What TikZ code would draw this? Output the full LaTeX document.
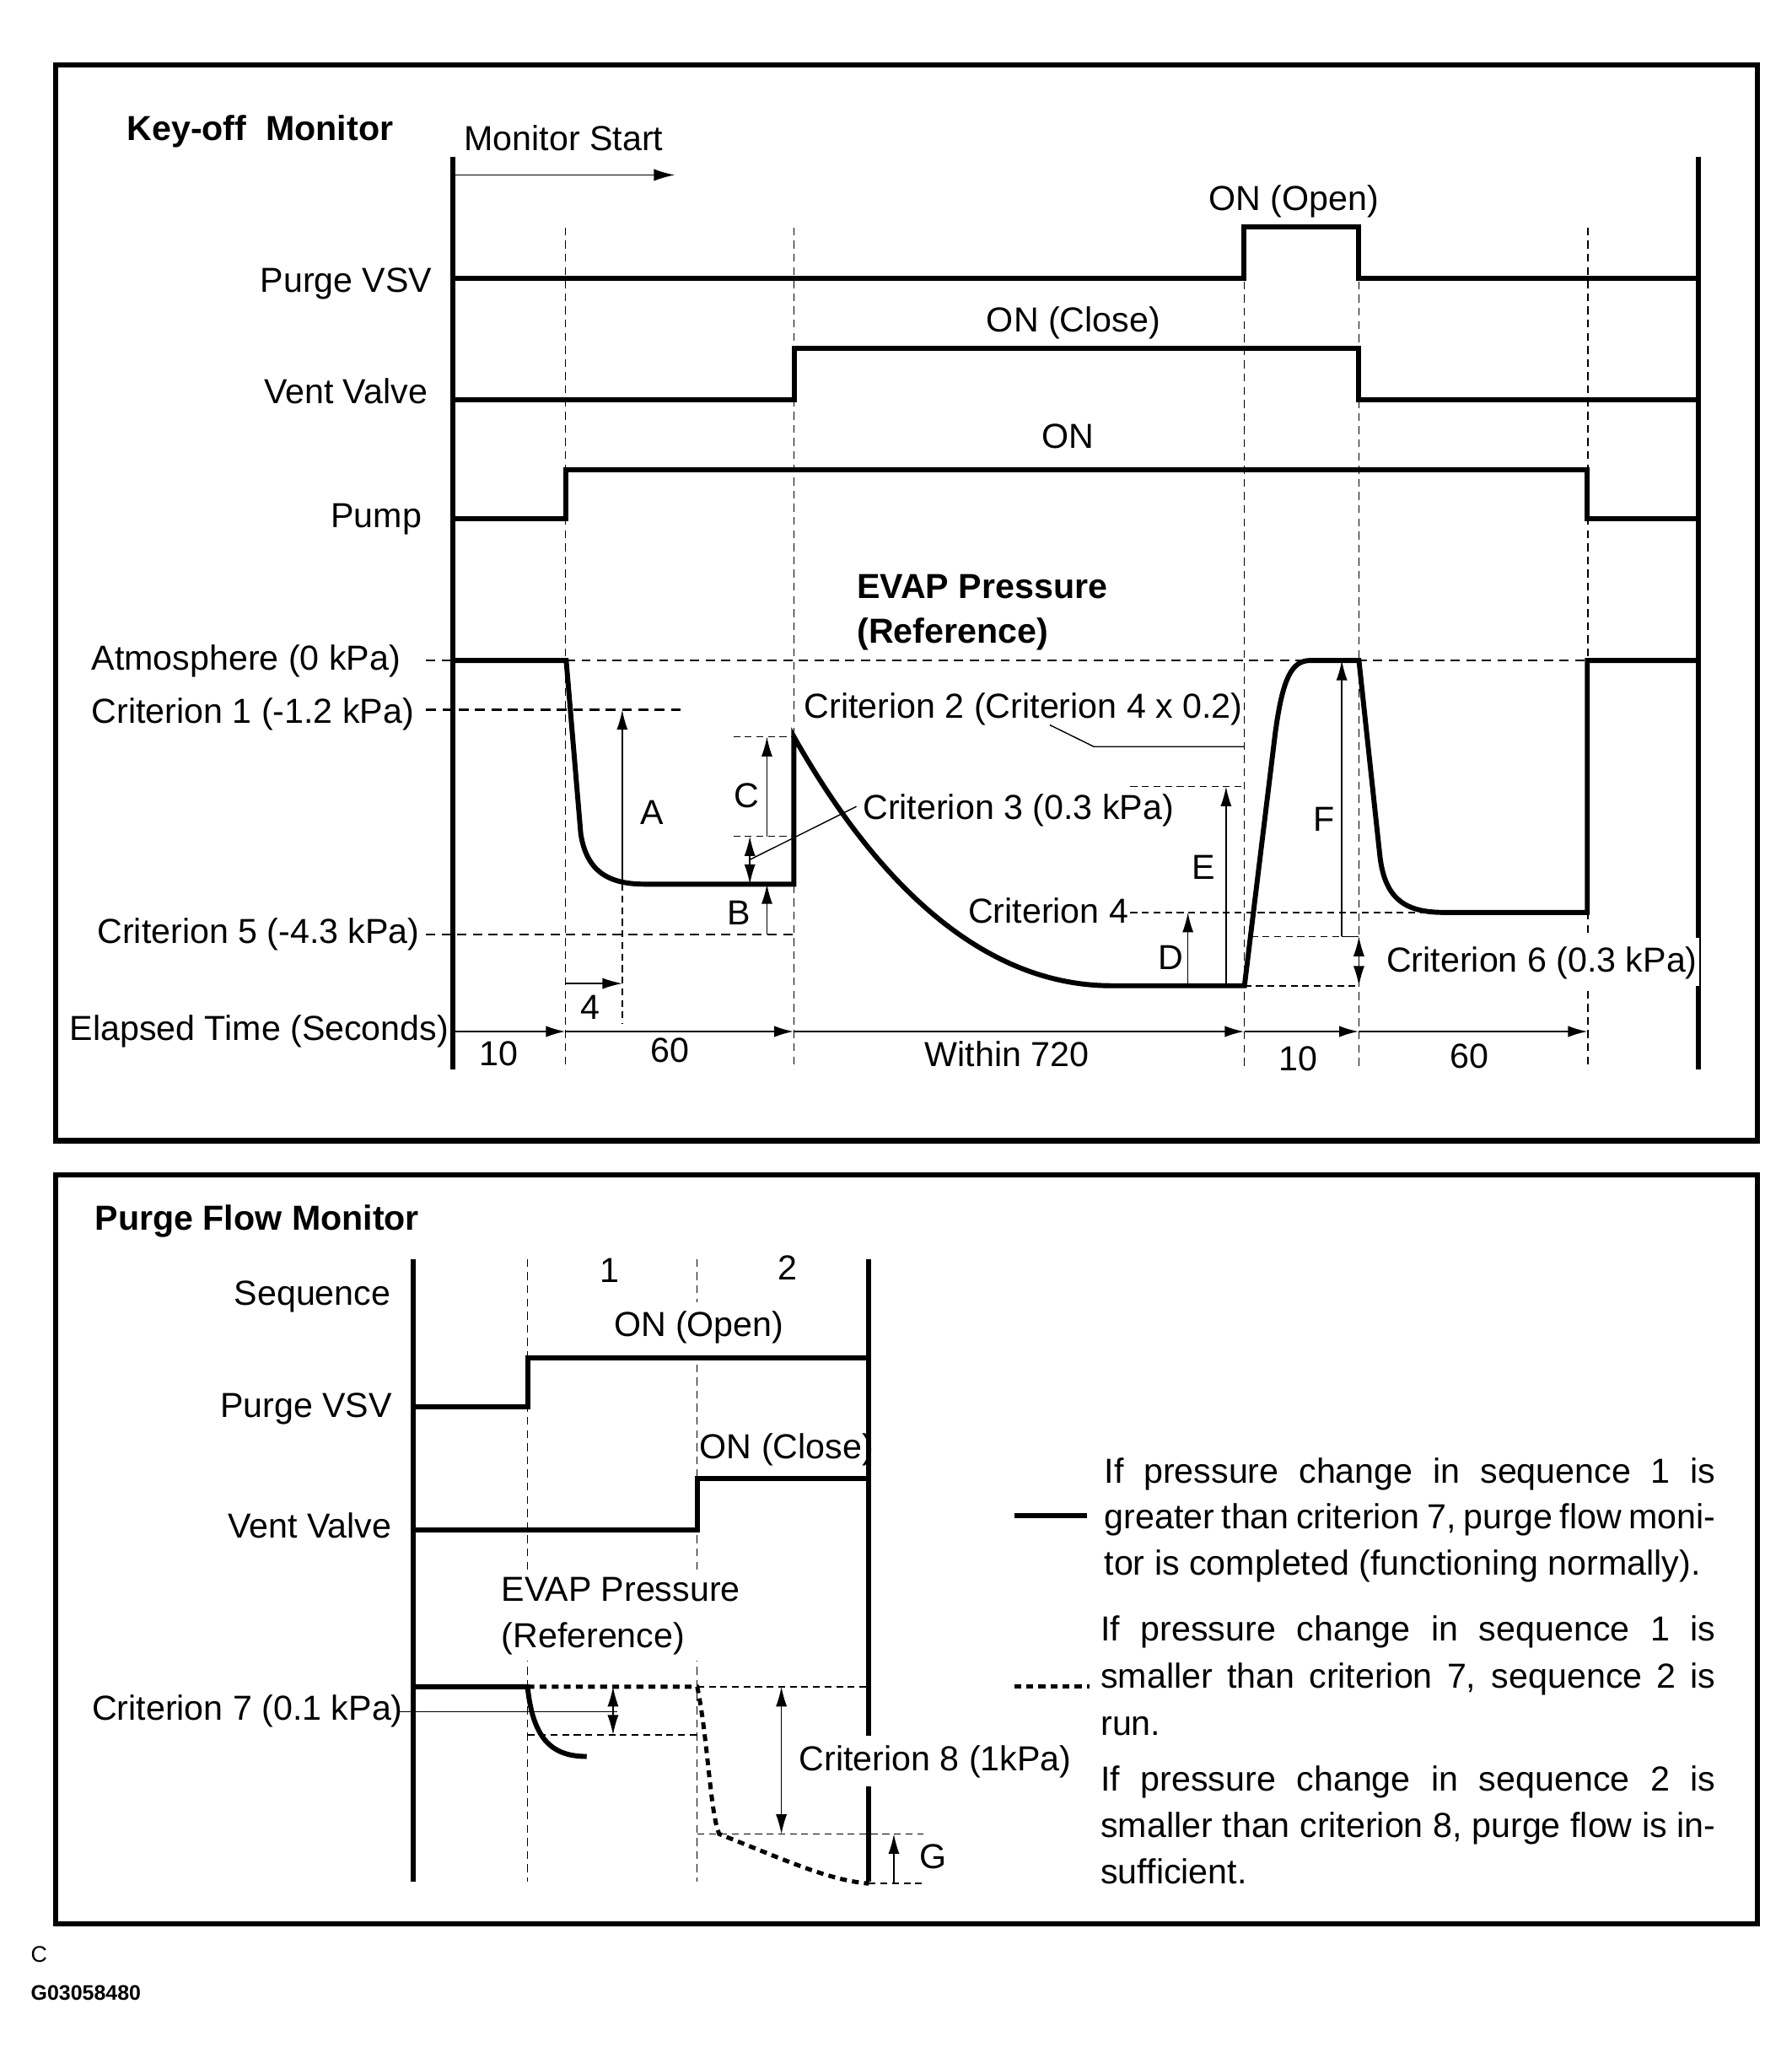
\documentclass[tikz,border=0pt]{standalone}
\usepackage{fontspec}
\setmainfont{Liberation Sans}
\usetikzlibrary{arrows.meta}
\newcommand\lblfont{\fontsize{13.2}{15.8}\selectfont}
\begin{document}
\begin{tikzpicture}[x=0.5pt,y=-0.5pt,
  every node/.style={inner sep=0pt, outer sep=0pt, font=\lblfont},
  bfnode/.style={font=\lblfont\bfseries},
  sig/.style={line width=1.9pt, line join=miter},
  panel/.style={line width=2pt},
  vdash/.style={line width=0.45pt, dash pattern=on 3pt off 2pt},
  hdash/.style={line width=0.6pt, dash pattern=on 3.5pt off 2.4pt},
  bdash/.style={line width=0.9pt, dash pattern=on 3.8pt off 2.4pt},
  sdash/.style={line width=0.5pt, dash pattern=on 2.6pt off 1.8pt},
  thn/.style={line width=0.45pt},
  mask/.style={fill=white},
  arr/.style={thn, -{Latex[length=7.5pt,width=4.2pt]}},
  darr/.style={thn, {Latex[length=7.5pt,width=4.2pt]}-{Latex[length=7.5pt,width=4.2pt]}},
  tarr/.style={line width=0.8pt, -{Latex[length=7.5pt,width=4.3pt]}},
  dotl/.style={line width=1.6pt, dash pattern=on 2.6pt off 2pt}
]
\useasboundingbox (0,0) rectangle (1362,1568);
\fill[white] (0,0) rectangle (1362,1568);

% ================= frames
\draw[panel] (42.5,49.5) rectangle (1336,867);
\draw[panel] (42.5,893) rectangle (1336,1462);

% ================= top panel
\node[bfnode, anchor=base west] (keyoff) at (96.5,106.5) {Key-off\ \ Monitor};
\node[anchor=base west] (mstart) at (353,114.5) {Monitor Start};
\draw[line width=0.6pt, -{Latex[length=8pt,width=4.6pt]}] (346,133) -- (513,133);

% dashed verticals
\draw[vdash] (430,173) -- (430,813);
\draw[vdash] (603.5,173) -- (603.5,813);
\draw[vdash] (946,214) -- (946,813);
\draw[vdash] (1033,214) -- (1033,813);
\draw[vdash] (1207,173) -- (1207,813);

% main verticals
\draw[sig] (344,119) -- (344,813);
\draw[sig] (1291,119) -- (1291,813);

% signals
\node[anchor=base east] (pvsv) at (328.5,222) {Purge VSV};
\node[anchor=base east] (vvalve) at (325,306.5) {Vent Valve};
\node[anchor=base east] (pump) at (320.5,401) {Pump};
\draw[sig] (344,211.3) -- (945.5,211.3) -- (945.5,172.6) -- (1033,172.6) -- (1033,211.3) -- (1291,211.3);
\draw[sig] (344,304) -- (603.7,304) -- (603.7,264.8) -- (1033,264.8) -- (1033,304) -- (1291,304);
\draw[sig] (344,394.5) -- (430.4,394.5) -- (430.4,357.2) -- (1206.6,357.2) -- (1206.6,394.5) -- (1291,394.5);
\node[anchor=base] (onopen) at (983.5,160) {ON (Open)};
\node[anchor=base] (onclose) at (816,252) {ON (Close)};
\node[anchor=base] (on) at (811.5,341) {ON};

% EVAP pressure
\node[bfnode, anchor=base west] (evap1) at (651.5,455) {EVAP Pressure};
\node[bfnode, anchor=base west] (evap2) at (651.5,489) {(Reference)};

\node[anchor=base west] (atm) at (69.7,509.5) {Atmosphere (0 kPa)};
\node[anchor=base west] (cr1) at (69.7,550) {Criterion 1 (-1.2 kPa)};
\node[anchor=base west] (cr5) at (74,717) {Criterion 5 (-4.3 kPa)};
\node[anchor=base west] (etime) at (53,791) {Elapsed Time (Seconds)};

\draw[hdash] (324,502) -- (1207,502);
\draw[bdash] (324,539.6) -- (517,539.6);
\draw[hdash] (324,710.5) -- (603.5,710.5);

% pressure curve
\draw[sig] (344,502) -- (430.4,502) -- (441.5,634)
  .. controls (446,662) and (462,672) .. (490,672) -- (603.5,672) -- (603.5,560)
  .. controls (660,660) and (740,749.2) .. (845,749.2) -- (946,749.2) -- (969.3,558)
  .. controls (975,515) and (982,502) .. (996,502) -- (1033,502) -- (1049,651)
  .. controls (1053,685) and (1070,693.5) .. (1098,693.5) -- (1206.6,693.5) -- (1206.6,502) -- (1291,502);

% A, B, C
\draw[arr] (473,670) -- (473,539.6);
\node[anchor=base] (la) at (495.7,626.8) {A};
\draw[sdash] (557.4,560) -- (603.5,560);
\draw[sdash] (557.4,635.6) -- (603.5,635.6);
\draw[arr] (583,635.6) -- (583,560);
\node[anchor=base] (lc) at (567.5,613.5) {C};
\draw[darr] (570,635.6) -- (570,672);
\draw[arr] (583,710.5) -- (583,672);
\node[anchor=base] (lb) at (562,702.6) {B};
\draw[sdash] (473,672) -- (473,778.5);
\draw[thn, -{Latex[length=7.5pt,width=4.2pt]}] (430,747.5) -- (473,747.5);
\node[anchor=base] (l4) at (449,774.4) {4};

% criterion 2 / 3
\node[anchor=base west] (cr2) at (611.5,546) {Criterion 2 (Criterion 4 x 0.2)};
\draw[thn] (798,551) -- (831.5,567.5) -- (946,567.5);
\node[anchor=base west] (cr3) at (656,623) {Criterion 3 (0.3 kPa)};
\draw[thn] (570,653.4) -- (651,613);

% D, E, F, criterion 4 / 6
\node[anchor=base west] (cr4) at (736,701.8) {Criterion 4};
\draw[sdash] (859.3,693.6) -- (1098,693.6);
\draw[sdash] (859.3,597.8) -- (946,597.8);
\draw[arr] (932,749.2) -- (932,597.8);
\node[anchor=base] (le) at (915,668) {E};
\draw[arr] (903,749.2) -- (903,693.6);
\node[anchor=base] (ld) at (890.2,737) {D};
\draw[arr] (1020,711.8) -- (1020,502);
\node[anchor=base] (lf) at (1006.5,632) {F};
\draw[sdash] (951,711.8) -- (1020,711.8);
\draw[thn] (1020,711.8) -- (1033,711.8);
\draw[sdash] (946,749.2) -- (1033,749.2);
\draw[darr] (1033,711.8) -- (1033,749.2);
\fill[mask] (1049,712.8) rectangle (1291.6,749.2);
\node[anchor=base west] (cr6) at (1054,738.5) {Criterion 6 (0.3 kPa)};

% time axis
\draw[tarr] (344,784) -- (430,784);
\draw[tarr] (430,784) -- (603.5,784);
\draw[tarr] (603.5,784) -- (946,784);
\draw[tarr] (946,784) -- (1033,784);
\draw[tarr] (1033,784) -- (1207,784);
\node[anchor=base] (t1) at (379,810) {10};
\node[anchor=base] (t2) at (509.5,807.6) {60};
\node[anchor=base] (t3) at (765.5,810.3) {Within 720};
\node[anchor=base] (t4) at (986.6,814) {10};
\node[anchor=base] (t5) at (1117,811.6) {60};

% ================= bottom panel
\node[bfnode, anchor=base west] (pfm) at (72.2,935) {Purge Flow Monitor};
\node[anchor=base east] (seq) at (297,992) {Sequence};
\node[anchor=base] (s1) at (463.6,975) {1};
\node[anchor=base] (s2) at (599,972.5) {2};

\draw[vdash] (401,957) -- (401,1430);
\draw[vdash] (530,957) -- (530,1430);
\draw[sig] (314,957) -- (314,1430);
\draw[sig] (660.5,957) -- (660.5,1319);
\draw[sig] (660.5,1358) -- (660.5,1430);

\fill[mask] (463,990) rectangle (598,1030);
\node[anchor=base west] (bopen) at (466.7,1015.6) {ON (Open)};
\node[anchor=base east] (bpvsv) at (298,1077) {Purge VSV};
\draw[sig] (314,1069) -- (401,1069) -- (401,1032) -- (660.5,1032);
\node[anchor=base west] (bclose) at (532,1108.7) {ON (Close)};
\node[anchor=base east] (bvv) at (297.5,1169) {Vent Valve};
\draw[sig] (314,1163) -- (530,1163) -- (530,1124) -- (660.5,1124);

\fill[mask] (378,1193) rectangle (566,1262);
\node[anchor=base west] (bev1) at (381.2,1217) {EVAP Pressure};
\node[anchor=base west] (bev2) at (381.2,1252.3) {(Reference)};

\draw[sdash] (530,1282) -- (660.5,1282);
\draw[sdash] (401,1318.5) -- (530,1318.5);
\draw[sdash] (530,1394) -- (702,1394);
\draw[sdash] (660.5,1431.6) -- (702,1431.6);

\draw[sig] (314,1282) -- (401,1282) .. controls (405,1320) and (418,1335) .. (446,1335);
\draw[dotl] (401,1282) -- (530,1282) .. controls (538,1320) and (540,1380) .. (546.8,1394)
  .. controls (600,1415) and (630,1429) .. (660.5,1431.6);

\node[anchor=base west] (cr7) at (70,1307.5) {Criterion 7 (0.1 kPa)};
\draw[thn] (302,1301) -- (469.5,1301);
\draw[darr] (466,1282) -- (466,1318.5);
\draw[darr] (594,1282) -- (594,1394);
\node[anchor=base west] (cr8) at (607.5,1345.8) {Criterion 8 (1kPa)};
\draw[arr] (679.5,1431.6) -- (679.5,1394);
\node[anchor=base west] (lg) at (698.8,1420.5) {G};

% legend
\draw[sig] (771,1152) -- (826,1152);
\draw[dotl] (771,1282) -- (828,1282);
\node[anchor=base west] (p1a) at (839.5,1127) {\makebox[232.4pt][s]{If pressure change in sequence 1 is}};
\node[anchor=base west] (p1b) at (839.5,1162) {\makebox[232.4pt][s]{greater than criterion 7, purge flow moni-}};
\node[anchor=base west] (p1c) at (839.5,1197) {tor is completed (functioning normally).};
\node[anchor=base west] (p2a) at (836.8,1247) {\makebox[233.7pt][s]{If pressure change in sequence 1 is}};
\node[anchor=base west] (p2b) at (836.8,1283) {\makebox[233.7pt][s]{smaller than criterion 7, sequence 2 is}};
\node[anchor=base west] (p2c) at (836.8,1319) {run.};
\node[anchor=base west] (p3a) at (836.8,1361) {\makebox[233.7pt][s]{If pressure change in sequence 2 is}};
\node[anchor=base west] (p3b) at (836.8,1396.5) {\makebox[233.7pt][s]{smaller than criterion 8, purge flow is in-}};
\node[anchor=base west] (p3c) at (836.8,1432) {sufficient.};

% footer
\node[anchor=base west, font=\fontsize{8.6}{10}\selectfont] (fc) at (23.5,1491.6) {C};
\node[anchor=base west, font=\fontsize{8}{10}\selectfont\bfseries] (fg) at (23.5,1520) {G03058480};
\end{tikzpicture}
\end{document}
